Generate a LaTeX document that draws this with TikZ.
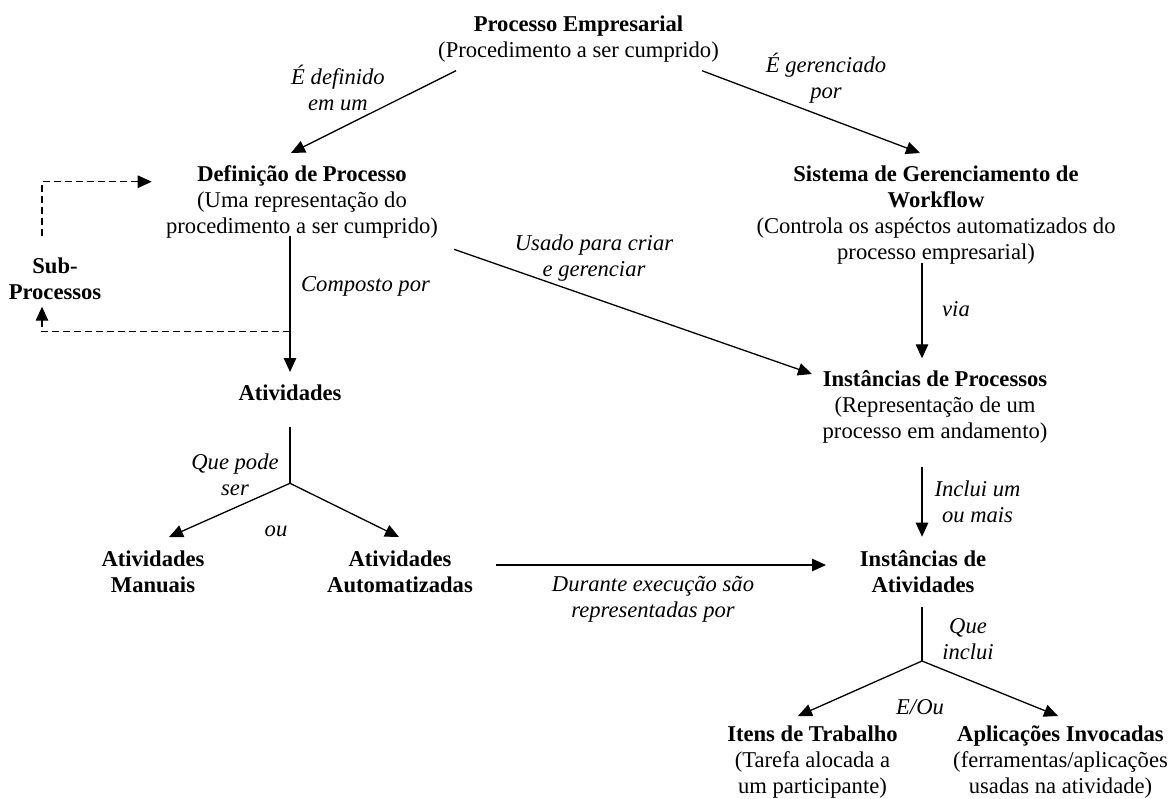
\documentclass[tikz,border=0pt]{standalone}
\usepackage{fontspec}
\setmainfont{Liberation Serif}
\usetikzlibrary{arrows.meta}
% multi-line centred block whose baseline is the first line
\newcommand\blk[1]{\begin{tabular}[t]{@{}c@{}}#1\end{tabular}}
\begin{document}
\begin{tikzpicture}[x=1pt,y=-1pt,
  txt/.style={anchor=base,inner sep=0pt,font=\fontsize{22.6pt}{26pt}\selectfont},
  lbl/.style={anchor=base,inner sep=0pt,font=\fontsize{22.6pt}{26pt}\selectfont\itshape},
  conn/.style={line width=1.3pt,-{Triangle[length=14pt,width=12.5pt]}},
  plain/.style={line width=1.3pt},
  dashconn/.style={conn,dash pattern=on 7pt off 4pt}]
\useasboundingbox (0,0) rectangle (1169,798);

% ---- concept blocks ----
\node[txt] (pe) at (578.5,31) {\blk{\textbf{Processo Empresarial}\\(Procedimento a ser cumprido)}};
\node[txt] (dp) at (302,181.7) {\blk{\textbf{Definição de Processo}\\(Uma representação do\\procedimento a ser cumprido)}};
\node[txt] (sgw) at (936,181.7) {\blk{\textbf{Sistema de Gerenciamento de}\\\textbf{Workflow}\\(Controla os aspéctos automatizados do\\processo empresarial)}};
\node[txt] (sp) at (55,273) {\blk{\textbf{Sub-}\\\textbf{Processos}}};
\node[txt] (at) at (290,400.7) {\textbf{Atividades}};
\node[txt] (ip) at (935,386.7) {\blk{\textbf{Instâncias de Processos}\\(Representação de um\\processo em andamento)}};
\node[txt] (am) at (153,566.7) {\blk{\textbf{Atividades}\\\textbf{Manuais}}};
\node[txt] (aa) at (400,566.7) {\blk{\textbf{Atividades}\\\textbf{Automatizadas}}};
\node[txt] (ia) at (923,566.7) {\blk{\textbf{Instâncias de}\\\textbf{Atividades}}};
\node[txt] (it) at (812.5,741.5) {\blk{\textbf{Itens de Trabalho}\\(Tarefa alocada a\\um participante)}};
\node[txt] (ai) at (1060.5,741.5) {\blk{\textbf{Aplicações Invocadas}\\(ferramentas/aplicações\\usadas na atividade)}};

% ---- relation labels ----
\node[lbl] (l1) at (338,84) {\blk{É definido\\em um}};
\node[lbl] (l2) at (826,72) {\blk{É gerenciado\\por}};
\node[lbl] (l3) at (594,250) {\blk{Usado para criar\\e gerenciar}};
\node[lbl] (l4) at (365.5,291) {Composto por};
\node[lbl] (l5) at (956,316.7) {via};
\node[lbl] (l6) at (235,469) {\blk{Que pode\\ser}};
\node[lbl] (l7) at (276,536.7) {ou};
\node[lbl] (l8) at (653,591.7) {\blk{Durante execução são\\representadas por}};
\node[lbl] (l9) at (977.5,496.7) {\blk{Inclui um\\ou mais}};
\node[lbl] (l10) at (968,633) {\blk{Que\\inclui}};
\node[lbl] (l11) at (920,714) {E/Ou};

% ---- connector end points ----
\coordinate (pe-l) at (456,70.7);
\coordinate (pe-r) at (702,70.7);
\coordinate (dp-in) at (291,153);
\coordinate (sgw-in) at (920,153);
\coordinate (dp-out) at (454,249.3);
\coordinate (ip-in) at (812,374);
\coordinate (dp-down) at (290,236);
\coordinate (at-in) at (290,372);
\coordinate (split-dp) at (290,331.7);
\coordinate (sp-in) at (42,306.7);
\coordinate (sp-out) at (42,236);
\coordinate (dp-side) at (151.7,181.7);
\coordinate (sgw-out) at (922,263.3);
\coordinate (ip-top) at (922,358.3);
\coordinate (at-out) at (290,427);
\coordinate (at-fork) at (290,483.3);
\coordinate (am-in) at (169,537);
\coordinate (aa-in) at (399,537);
\coordinate (aa-out) at (496,565);
\coordinate (ia-side) at (826,565);
\coordinate (ip-out) at (922,467.3);
\coordinate (ia-top) at (922,536.7);
\coordinate (ia-out) at (922,606.7);
\coordinate (ia-fork) at (922,661);
\coordinate (it-in) at (798,716);
\coordinate (ai-in) at (1058,716);

% ---- connectors ----
\draw[conn] (pe-l) -- (dp-in);
\draw[conn] (pe-r) -- (sgw-in);
\draw[conn] (dp-out) -- (ip-in);
\draw[conn] (dp-down) -- (at-in);
\draw[dashconn] (split-dp) -| (sp-in);
\draw[dashconn] (sp-out) |- (dp-side);
\draw[conn] (sgw-out) -- (ip-top);
\draw[plain] (at-out) -- (at-fork);
\draw[conn] (at-fork) -- (am-in);
\draw[conn] (at-fork) -- (aa-in);
\draw[conn] (aa-out) -- (ia-side);
\draw[conn] (ip-out) -- (ia-top);
\draw[plain] (ia-out) -- (ia-fork);
\draw[conn] (ia-fork) -- (it-in);
\draw[conn] (ia-fork) -- (ai-in);
\end{tikzpicture}
\end{document}
